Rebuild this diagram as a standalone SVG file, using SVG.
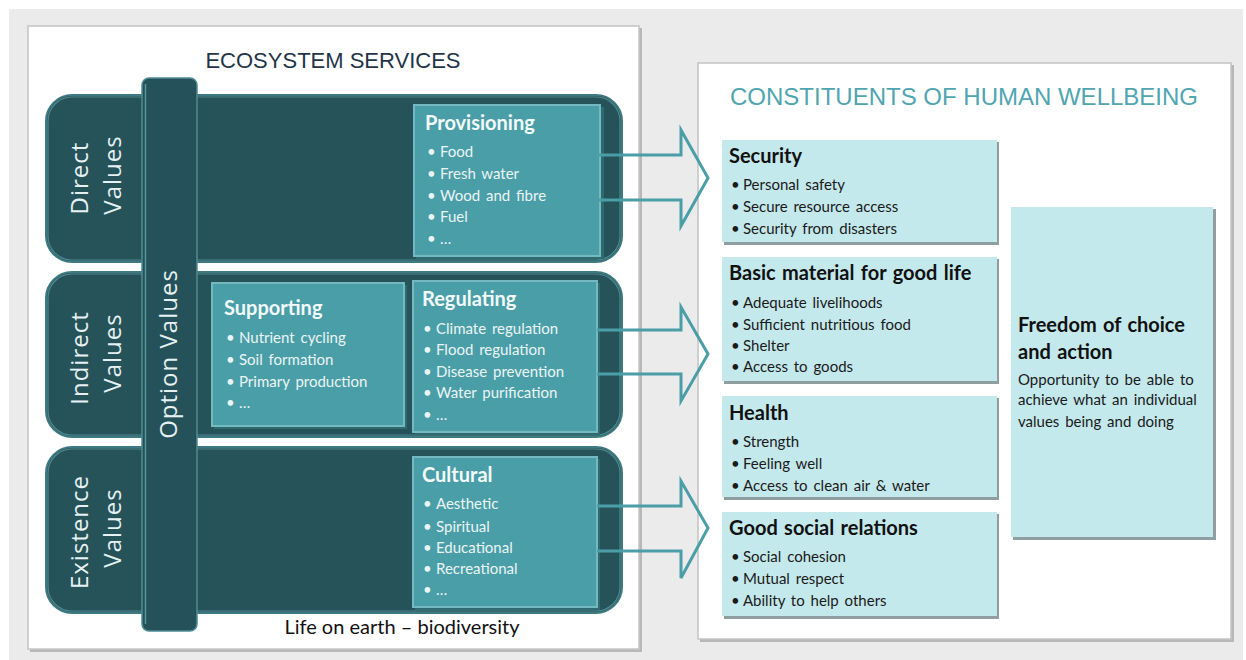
<svg xmlns="http://www.w3.org/2000/svg" width="1246" height="660" viewBox="0 0 1246 660">
<defs>
<style>
.row{fill:#26525a;stroke:#3e7a81;stroke-width:2}
.rowhl{fill:none;stroke:#5f9ea4;stroke-width:1.2;opacity:0.7}
.lbox{fill:#4a9ea7;stroke:#74b9bf;stroke-width:2}
.lshadow{fill:#2f6a71}
.rbox{fill:#c4e9ec}
.rshadow{fill:#8f9fa1}
.vt{font-family:"Open Sans","Liberation Sans",sans-serif;font-size:24px;fill:#e6f1f2;text-anchor:middle;letter-spacing:1px}
.lt{font-family:Lato,"Liberation Sans",sans-serif;font-size:20px;font-weight:bold;fill:#f2fafa}
.li{font-family:Lato,"Liberation Sans",sans-serif;font-size:15px;word-spacing:2px;fill:#eaf5f6}
.rt{font-family:Lato,"Liberation Sans",sans-serif;font-size:20px;font-weight:bold;fill:#111;word-spacing:1.5px}
.ri{font-family:Lato,"Liberation Sans",sans-serif;font-size:15px;word-spacing:2px;fill:#1a1a1a}
.arrow{fill:none;stroke:#4a9ea7;stroke-width:3;stroke-linejoin:miter}
</style>
</defs>
<rect x="0" y="0" width="1246" height="660" fill="#ffffff"/>
<rect x="9" y="9" width="1234" height="651" fill="#ebebeb"/>

<g id="left-panel">
<rect x="30" y="28" width="612" height="624" fill="#b8b8b8"/>
<rect x="28" y="26" width="611" height="623" fill="#ffffff" stroke="#c4c4c4" stroke-width="1.5"/>
<text x="333" y="68" font-family="Liberation Sans, sans-serif" font-size="22" fill="#1f3548" text-anchor="middle">ECOSYSTEM SERVICES</text>
<text x="402" y="634" font-family="Lato, Liberation Sans, sans-serif" font-size="20" fill="#111" text-anchor="middle">Life on earth – biodiversity</text>
</g>

<g id="right-panel">
<rect x="700" y="65" width="534" height="577" fill="#b8b8b8"/>
<rect x="698" y="63" width="533" height="576" fill="#ffffff" stroke="#c4c4c4" stroke-width="1.5"/>
<text x="964" y="105" font-family="Liberation Sans, sans-serif" font-size="24" fill="#4fa5b0" text-anchor="middle">CONSTITUENTS OF HUMAN WELLBEING</text>
</g>

<g id="row-direct">
<rect class="row" x="46" y="95" width="576" height="167" rx="26"/>
<rect class="rowhl" x="48" y="97" width="572" height="163" rx="24"/>
<text class="vt" transform="translate(88,178) rotate(-90)">Direct</text>
<text class="vt" transform="translate(121,175) rotate(-90)">Values</text>
</g>
<g id="row-indirect">
<rect class="row" x="46" y="272" width="576" height="165" rx="26"/>
<rect class="rowhl" x="48" y="274" width="572" height="161" rx="24"/>
<text class="vt" transform="translate(88,358) rotate(-90)">Indirect</text>
<text class="vt" transform="translate(121,353) rotate(-90)">Values</text>
</g>
<g id="row-existence">
<rect class="row" x="46" y="447" width="576" height="166" rx="26"/>
<rect class="rowhl" x="48" y="449" width="572" height="162" rx="24"/>
<text class="vt" transform="translate(88,532) rotate(-90)">Existence</text>
<text class="vt" transform="translate(121,528) rotate(-90)">Values</text>
</g>

<g id="option-values">
<rect x="142" y="78" width="55" height="553" rx="7" fill="#25525a" stroke="#4f8d93" stroke-width="1.5"/>
<line x1="145.5" y1="84" x2="145.5" y2="624" stroke="#6aa8ad" stroke-width="1.5" opacity="0.8"/>
<text class="vt" transform="translate(177,354) rotate(-90)">Option Values</text>
</g>

<g id="provisioning">
<rect class="lshadow" x="416" y="107" width="188" height="152"/>
<rect class="lbox" x="414" y="105" width="186" height="151"/>
<text class="lt" x="425" y="130">Provisioning</text>
<g class="li">
<text x="427" y="157">•</text><text x="440" y="157">Food</text>
<text x="427" y="179">•</text><text x="440" y="179">Fresh water</text>
<text x="427" y="201">•</text><text x="440" y="201">Wood and fibre</text>
<text x="427" y="222">•</text><text x="440" y="222">Fuel</text>
<text x="427" y="244">•</text><text x="440" y="244">…</text>
</g>
</g>

<g id="supporting">
<rect class="lshadow" x="214" y="285" width="193" height="144"/>
<rect class="lbox" x="212" y="283" width="192" height="143"/>
<text class="lt" x="224" y="315">Supporting</text>
<g class="li">
<text x="226" y="343">•</text><text x="239" y="343">Nutrient cycling</text>
<text x="226" y="365">•</text><text x="239" y="365">Soil formation</text>
<text x="226" y="387">•</text><text x="239" y="387">Primary production</text>
<text x="226" y="408">•</text><text x="239" y="408">…</text>
</g>
</g>

<g id="regulating">
<rect class="lshadow" x="415" y="283" width="185" height="152"/>
<rect class="lbox" x="413" y="281" width="184" height="151"/>
<text class="lt" x="422" y="306">Regulating</text>
<g class="li">
<text x="423" y="334">•</text><text x="436" y="334">Climate regulation</text>
<text x="423" y="355">•</text><text x="436" y="355">Flood regulation</text>
<text x="423" y="377">•</text><text x="436" y="377">Disease prevention</text>
<text x="423" y="398">•</text><text x="436" y="398">Water purification</text>
<text x="423" y="420">•</text><text x="436" y="420">…</text>
</g>
</g>

<g id="cultural">
<rect class="lshadow" x="415" y="459" width="185" height="151"/>
<rect class="lbox" x="413" y="457" width="184" height="150"/>
<text class="lt" x="422" y="482">Cultural</text>
<g class="li">
<text x="423" y="509">•</text><text x="436" y="509">Aesthetic</text>
<text x="423" y="532">•</text><text x="436" y="532">Spiritual</text>
<text x="423" y="553">•</text><text x="436" y="553">Educational</text>
<text x="423" y="574">•</text><text x="436" y="574">Recreational</text>
<text x="423" y="595">•</text><text x="436" y="595">…</text>
</g>
</g>

<g id="security">
<rect class="rshadow" x="724" y="142" width="275" height="103"/>
<rect class="rbox" x="722" y="140" width="275" height="102"/>
<text class="rt" x="729" y="163">Security</text>
<g class="ri">
<text x="731" y="190">•</text><text x="743" y="190">Personal safety</text>
<text x="731" y="212">•</text><text x="743" y="212">Secure resource access</text>
<text x="731" y="234">•</text><text x="743" y="234">Security from disasters</text>
</g>
</g>

<g id="basic-material">
<rect class="rshadow" x="724" y="259" width="275" height="125"/>
<rect class="rbox" x="722" y="257" width="275" height="124"/>
<text class="rt" x="729" y="280">Basic material for good life</text>
<g class="ri">
<text x="731" y="308">•</text><text x="743" y="308">Adequate livelihoods</text>
<text x="731" y="330">•</text><text x="743" y="330">Sufficient nutritious food</text>
<text x="731" y="351">•</text><text x="743" y="351">Shelter</text>
<text x="731" y="372">•</text><text x="743" y="372">Access to goods</text>
</g>
</g>

<g id="health">
<rect class="rshadow" x="724" y="398" width="275" height="102"/>
<rect class="rbox" x="722" y="396" width="275" height="101"/>
<text class="rt" x="729" y="420">Health</text>
<g class="ri">
<text x="731" y="447">•</text><text x="743" y="447">Strength</text>
<text x="731" y="469">•</text><text x="743" y="469">Feeling well</text>
<text x="731" y="491">•</text><text x="743" y="491">Access to clean air &amp; water</text>
</g>
</g>

<g id="social-relations">
<rect class="rshadow" x="724" y="514" width="275" height="105"/>
<rect class="rbox" x="722" y="512" width="275" height="104"/>
<text class="rt" x="729" y="535">Good social relations</text>
<g class="ri">
<text x="731" y="562">•</text><text x="743" y="562">Social cohesion</text>
<text x="731" y="584">•</text><text x="743" y="584">Mutual respect</text>
<text x="731" y="606">•</text><text x="743" y="606">Ability to help others</text>
</g>
</g>

<g id="freedom">
<rect class="rshadow" x="1013" y="209" width="203" height="331"/>
<rect class="rbox" x="1011" y="207" width="202" height="330"/>
<text class="rt" x="1018" y="332">Freedom of choice</text>
<text class="rt" x="1018" y="359">and action</text>
<g class="ri">
<text x="1018" y="385">Opportunity to be able to</text>
<text x="1018" y="405">achieve what an individual</text>
<text x="1018" y="427">values being and doing</text>
</g>
</g>

<g id="connectors">
<path class="arrow" d="M597,155 H681 V130 L708,178 L681,226 V200 H597"/>
<path class="arrow" d="M597,330 H681 V307 L708,354 L681,401 V374 H597"/>
<path class="arrow" d="M597,506 H681 V481 L708,528 L681,578 V551 H597"/>
</g>
</svg>
